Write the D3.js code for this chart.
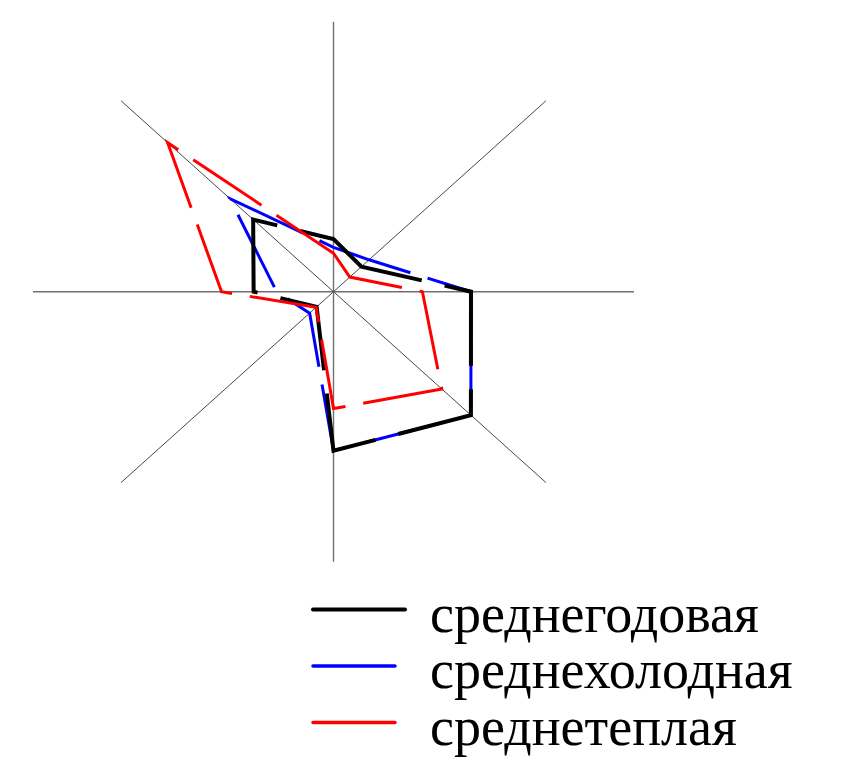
<!DOCTYPE html>
<html>
<head>
<meta charset="utf-8">
<script src="https://cdn.jsdelivr.net/npm/d3@7"></script>
<style>
  body { margin: 0; background: #fff; }
  text { font-family: "Liberation Serif", "Times New Roman", serif; }
</style>
</head>
<body>
<div id="chart"></div>
<script>
// directions, clockwise from north
var directions = ["С", "СВ", "В", "ЮВ", "Ю", "ЮЗ", "З", "СЗ"];

// repeatability, %
var annual = [7.1, 4.8, 16.7, 23.6, 21.5, 2.9, 9.7, 13.8];
var cold   = [6.0, 6.1, 16.7, 23.6, 21.5, 4.1, 6.9, 17.8];
var warm   = [5.2, 2.8, 10.8, 18.6, 15.8, 3.0, 13.6, 28.5];

var seriesNames = ["среднегодовая", "среднехолодная", "среднетеплая"];
var axisMax = 36.5;

var svg = d3.select("#chart").append("svg").attr("width", 843).attr("height", 769);

svg.append("rect").attr("width", "100%").attr("height", "100%").attr("fill", "white");

var cx = 333.5, cy = 291.7;

// the picture is a bit squeezed vertically
var x = d3.scaleLinear().domain([-axisMax, axisMax]).range([cx - 300.5, cx + 300.5]);
var y = d3.scaleLinear().domain([-axisMax, axisMax]).range([cy + 270, cy - 270]);

function angle(i) {
  return i * Math.PI / 4;
}

//--- axes
var axes = svg.append("g");
directions.forEach(function (d, i) {
  var a = angle(i);
  var diag = i % 2 == 1;
  axes.append("line").attr("x1", x(0)).attr("y1", y(0))
    .attr("x2", x(axisMax * Math.sin(a)))
    .attr("y2", y(axisMax * Math.cos(a)))
    .attr("stroke", diag ? "#333" : "#707070")
    .attr("stroke-width", diag ? 0.9 : 1.4);
});

//--- series
var line = d3.line()
  .x(function (d, i) { return x(d * Math.sin(angle(i))); })
  .y(function (d, i) { return y(d * Math.cos(angle(i))); })
  .curve(d3.curveLinearClosed);

var styles = [
  { color: "#0000ff", width: 3, dash: "81,18", data: cold },
  { color: "#000000", width: 4, dash: "101,23.5", data: annual },
  { color: "#ff0000", width: 3, dash: "82,18", data: warm }
];

styles.forEach(function (s) {
  svg.append("path")
    .attr("d", line(s.data))
    .attr("fill", "none")
    .attr("stroke", s.color)
    .attr("stroke-width", s.width)
    .attr("stroke-dasharray", s.dash)
    .attr("stroke-linejoin", "miter");
});

//--- legend
var legendColors = ["#000000", "#0000ff", "#ff0000"];
var legendWidths = [4, 3.5, 3.5];
var legendEnds = [405, 395, 395];

var legend = svg.append("g");
seriesNames.forEach(function (name, i) {
  var ly = 609.5 + i * 56.5;
  legend.append("line")
    .attr("x1", 313).attr("x2", legendEnds[i])
    .attr("y1", ly).attr("y2", ly)
    .attr("stroke", legendColors[i])
    .attr("stroke-width", legendWidths[i])
    .attr("stroke-linecap", "round");
  legend.append("text")
    .attr("x", 430).attr("y", ly + 22)
    .attr("font-size", 54)
    .attr("fill", "black")
    .text(name);
});
</script>
</body>
</html>
